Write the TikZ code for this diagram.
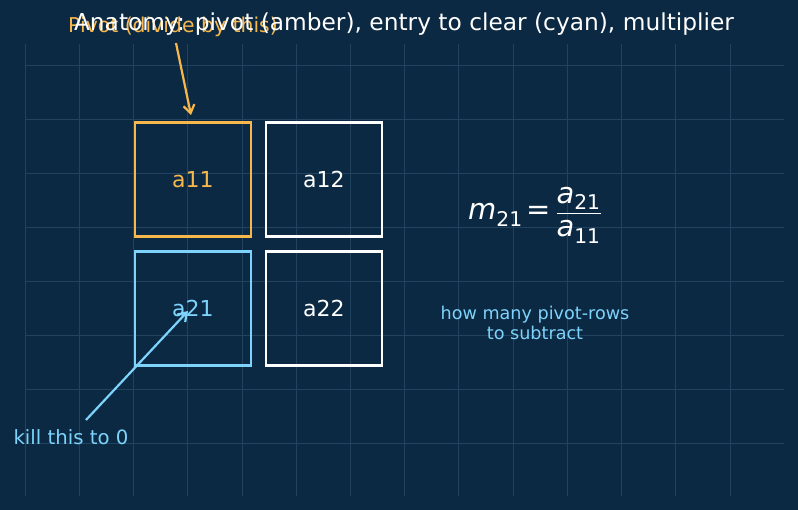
\documentclass[tikz,border=0pt]{standalone}
\usepackage{amsmath}
\usepackage{fontspec}
\setmainfont{DejaVu Sans}
\usetikzlibrary{arrows.meta}
\definecolor{bg}{HTML}{0B2942}
\definecolor{gridc}{HTML}{21435F}
\definecolor{amber}{HTML}{F6B74D}
\definecolor{cyanc}{HTML}{7DD3FC}
\tikzset{
  cell/.style={draw, line width=2.8pt, minimum width=116pt, minimum height=114pt, inner sep=0pt, font=\fontsize{22}{26}\selectfont, anchor=north west},
  lbl/.style={align=center, inner sep=0pt},
  arr/.style={line width=2.2pt, -{Straight Barb[length=8pt,width=11pt,line width=2.2pt]}}
}
\begin{document}
\begin{tikzpicture}[x=1pt,y=-1pt]
\fill[bg] (0,0) rectangle (798,510);
\useasboundingbox (0,0) rectangle (798,510);
% grid
\foreach \i in {0,...,13} {
  \draw[gridc, line width=0.8pt] ({25+54.23*\i},44) -- ({25+54.23*\i},496);
}
\foreach \j in {0,...,7} {
  \draw[gridc, line width=0.8pt] (25,{65+54*\j}) -- (784,{65+54*\j});
}
% cells
\node[cell, amber] (a11) at (133.5,121.5) {a11};
\node[cell, white] (a12) at (264.5,121.5) {a12};
\node[cell, cyanc] (a21) at (133.5,250.5) {a21};
\node[cell, white] (a22) at (264.5,250.5) {a22};
% labels
\node[lbl, amber, font=\fontsize{20.4}{24}\selectfont] (piv) at (173,27) {Pivot (divide by this)};
\node[lbl, white, font=\fontsize{23.3}{27}\selectfont] (title) at (404,24) {Anatomy: pivot (amber), entry to clear (cyan), multiplier};
\node[lbl, cyanc, font=\fontsize{19.7}{23}\selectfont] (kill) at (71,437) {kill this to 0};
\node[lbl, cyanc, font=\fontsize{17.6}{20}\selectfont] (how) at (535,323) {how many pivot-rows\\to subtract};
\node[white, inner sep=0pt, font=\fontsize{29}{34}\selectfont] (mult) at (535,215) {$\text{\itshape m}_{\text{21}}\,\text{=}\,\dfrac{\text{\itshape a}_{\text{21}}}{\text{\itshape a}_{\text{11}}}$};
% arrows
\coordinate (pivs) at (176,43);
\coordinate (kills) at (86,420);
\draw[arr, amber] (pivs) -- (191,115);
\draw[arr, cyanc] (kills) -- (188,311);
\end{tikzpicture}
\end{document}
